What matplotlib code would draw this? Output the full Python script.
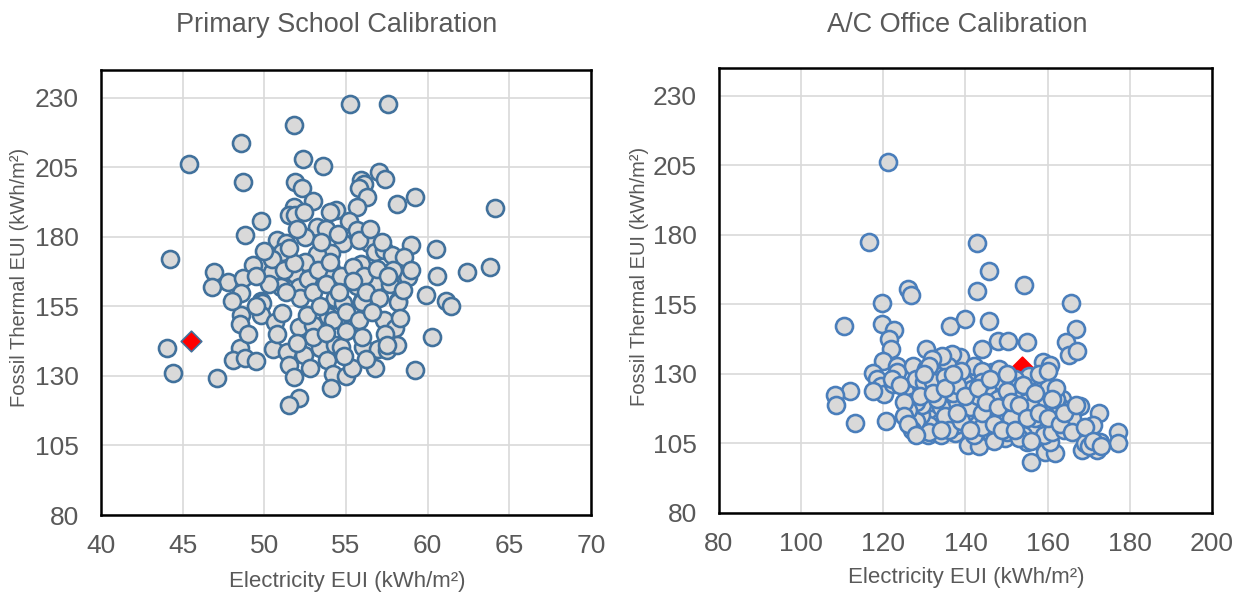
import matplotlib
matplotlib.use("Agg")
import matplotlib.pyplot as plt

plt.rcParams['font.family'] = ['Liberation Sans', 'DejaVu Sans']

# ---------------- data ----------------
school_title = "Primary School Calibration"
office_title = "A/C Office Calibration"
x_label = "Electricity EUI (kWh/m²)"
y_label = "Fossil Thermal EUI (kWh/m²)"

school_xticks = [40, 45, 50, 55, 60, 65, 70]
office_xticks = [80, 100, 120, 140, 160, 180, 200]
yticks = [80, 105, 130, 155, 180, 205, 230]

school_elec = [55.25, 57.6, 51.8, 48.55, 45.4, 52.35, 53.6, 48.7, 55.9, 56.1, 55.8, 57.0, 57.4,
               51.9, 52.3, 56.3, 59.2, 58.1, 64.1, 52.96, 55.65, 54.4, 54.0, 51.8, 51.5, 51.9,
               52.4, 49.8, 55.2, 55.7, 53.2, 53.8, 48.8, 44.2, 50.76, 51.3, 51.1, 54.8, 56.4,
               59.0, 60.5, 56.8, 57.3, 57.8, 58.55, 54.1, 53.25, 49.3, 46.9, 47.8, 46.8, 48.7,
               48.6, 62.4, 63.8, 60.6, 59.9, 58.8, 55.9, 54.1, 52.5, 51.9, 50.45, 53.45, 54.4,
               55.65, 56.8, 57.7, 57.9, 51.0, 52.1, 54.3, 56.0, 58.2, 61.1, 61.4, 49.8,
               49.84, 49.8, 50.65, 48.6, 48.5, 51.1, 52.1, 53.0, 53.9, 54.3, 54.8, 56.0, 58.2,
               57.3, 58.0, 55.35, 44.06, 44.4, 47.1, 48.5, 48.1, 48.8, 49.5, 50.55, 51.4, 51.5,
               51.8, 52.4, 52.1, 51.5, 53.4, 53.86, 54.33, 54.7, 54.2, 55.0, 55.35, 54.1, 56.06,
               56.98, 57.5, 58.1, 56.8, 59.2, 60.25,
               50.5, 51.2, 51.8, 52.7, 53.3, 54.0, 54.7, 55.4, 56.1, 56.9, 57.6, 52.2, 53.0,
               53.8, 54.6, 55.4, 56.2, 57.0, 52.6, 53.4, 54.2, 55.0, 55.8, 56.6, 57.4, 56.0,
               55.0, 53.0, 52.0, 50.8, 51.3, 50.3, 49.5, 51.5, 52.5, 53.5, 54.5, 55.8, 56.5,
               57.2, 52.0, 58.5, 59.0, 58.3, 57.5, 53.8, 54.9, 56.2, 52.8, 49.0, 48.0, 50.0, 49.5]
school_thermal = [227.8, 227.8, 220.2, 213.9, 206.2, 207.9, 205.5, 199.9, 200.5, 199.0, 197.5, 203.4, 200.8,
                  199.9, 197.5, 194.5, 194.5, 191.8, 190.5, 193.0, 190.9, 189.7, 189.1, 190.9, 187.9, 187.9,
                  189.1, 185.8, 185.8, 182.5, 183.4, 182.8, 180.7, 171.9, 178.9, 177.7, 174.7, 177.9, 177.9,
                  177.1, 175.5, 174.7, 175.3, 173.5, 172.6, 174.3, 173.8, 169.9, 167.5, 163.9, 162.1, 165.1,
                  159.7, 167.5, 169.1, 165.9, 159.1, 165.5, 170.3, 168.3, 171.1, 166.6, 167.5, 163.5, 162.1,
                  162.3, 163.5, 163.1, 168.1, 161.9, 161.9, 157.6, 157.1, 157.1, 157.1, 155.2, 157.1,
                  156.1, 151.9, 149.5, 151.9, 148.7, 152.5, 147.5, 148.3, 151.6, 157.9, 156.1, 156.7, 156.7,
                  150.1, 147.1, 147.1, 139.9, 131.2, 129.2, 139.9, 135.7, 136.6, 135.5, 139.6, 138.7, 133.9,
                  129.5, 137.5, 122.2, 119.6, 139.9, 135.7, 141.1, 140.5, 130.7, 130.0, 132.7, 125.6, 140.5,
                  139.6, 139.3, 141.1, 132.7, 132.1, 144.1,
                  172.0, 168.0, 170.5, 165.0, 168.0, 171.0, 166.0, 169.0, 166.0, 168.5, 166.0, 158.0, 160.0,
                  163.0, 160.0, 164.0, 160.0, 158.0, 152.0, 155.0, 150.0, 153.0, 150.0, 153.0, 145.0, 144.0,
                  146.0, 144.0, 142.0, 145.0, 160.0, 163.0, 166.0, 176.0, 180.0, 178.0, 181.0, 179.0, 183.0,
                  178.0, 183.0, 161.0, 168.0, 151.0, 141.0, 145.5, 137.0, 136.0, 133.0, 145.0, 157.0, 175.0, 155.0]
school_target_elec = [45.5]
school_target_thermal = [142.7]

office_elec = [121.1, 116.6, 142.7, 145.7, 154.2, 125.9, 126.7, 142.7, 165.8, 119.7,
               110.4, 119.7, 122.6, 121.4, 121.9, 119.8, 123.3, 127.3, 123.3, 117.4, 118.5, 119.5,
               120.2, 117.6, 122.4, 112.0, 108.2, 108.5, 113.0, 120.7, 130.5, 136.3, 139.9, 145.6,
               143.9, 147.8, 150.4, 155.0, 166.8, 164.4, 165.3, 167.1, 158.8, 160.5,
               161.7, 163.4, 167.9, 172.4, 171.1, 177.2, 177.2, 168.4, 172.0, 172.7, 170.8, 169.2,
               167.4, 165.0, 163.4, 155.9, 159.3, 161.7, 160.5, 158.3, 155.9, 152.6, 155.0, 152.1,
               148.1, 149.7, 145.9, 148.1, 140.6, 143.3, 130.8, 134.1, 137.5, 127.6, 127.6,
               126.7, 127.1, 126.9, 129.1, 131.0, 131.9, 132.9, 131.5, 134.8, 135.3, 136.3, 137.5,
               138.6, 139.1, 140.4, 142.0, 143.0, 144.2, 145.8, 146.5, 147.8, 147.3, 148.7, 149.4,
               150.6, 152.1, 153.0, 153.8, 155.0, 156.4, 156.9, 157.8, 158.8, 159.7, 161.2, 162.6,
               160.2, 157.3, 155.4, 140.6, 138.6, 136.7, 135.8, 134.3, 131.9, 130.5, 133.4, 142.0,
               143.9, 139.6, 141.5, 145.4, 148.2, 152.1, 154.0, 155.9, 151.1, 147.3, 137.7, 133.9,
               131.0, 129.1, 129.5, 137.7, 142.5,
               128, 130, 133, 136, 139, 141, 144, 146, 150, 151, 153, 156, 158, 160, 163, 165,
               128, 131, 134, 137, 140, 142, 145, 148, 150, 154, 157, 159, 162, 166, 128, 132,
               135, 138, 141, 143, 146, 149, 152, 155, 126, 127, 129, 133, 136, 139, 144, 147,
               151, 153, 156, 159, 161, 164, 122, 124, 131, 135, 150, 158, 160, 162,
               125, 125, 126, 128, 130, 132, 134, 135, 137, 138, 140, 141, 143, 144, 145, 146,
               147, 148, 149, 150, 151, 152, 153, 154, 155, 156, 157, 158, 160, 161, 163, 164,
               166, 169, 170, 171, 173, 167]
office_thermal = [206.3, 177.3, 176.9, 167.1, 162.1, 160.7, 158.3, 159.7, 155.6, 155.6,
                  147.3, 147.9, 145.7, 142.5, 138.9, 134.8, 133.0, 132.7, 130.6, 130.2, 128.2, 125.8,
                  122.9, 124.0, 126.4, 124.0, 122.5, 118.9, 112.5, 113.0, 138.9, 147.3, 149.6, 149.0,
                  138.9, 141.9, 141.7, 141.3, 146.3, 141.3, 136.8, 138.3, 134.2, 133.2,
                  124.9, 121.1, 118.5, 116.1, 111.8, 109.2, 105.0, 102.6, 102.6, 105.4, 105.6, 105.0,
                  111.0, 115.1, 113.0, 98.2, 102.0, 101.4, 105.6, 109.2, 108.0, 108.0, 105.6, 109.8,
                  108.9, 107.0, 109.8, 112.7, 104.6, 104.1, 108.2, 108.0, 108.6, 111.0, 115.1,
                  125.8, 122.9, 119.9, 125.8, 121.7, 118.7, 116.3, 113.9, 124.6, 121.1, 116.9, 114.5,
                  122.3, 118.7, 112.7, 111.6, 116.3, 119.9, 122.3, 130.6, 128.2, 124.6, 116.9, 113.3,
                  121.1, 123.5, 125.8, 118.7, 116.3, 124.6, 121.1, 117.5, 113.9, 111.6, 116.3, 113.3,
                  118.1, 128.2, 129.4, 130.6, 136.0, 137.1, 133.0, 136.5, 135.4, 131.8, 129.4, 133.0,
                  131.2, 127.0, 124.6, 125.8, 131.8, 128.2, 122.3, 112.7, 111.6, 115.1, 111.6, 112.7,
                  111.6, 115.1, 118.7, 118.1, 115.1,
                  128, 127, 124, 127, 131, 121, 127, 118, 118, 126, 112, 110, 122, 125, 118, 117,
                  113, 109, 118, 123, 116, 108, 113, 121, 109, 108, 114, 120, 121, 114, 120, 127,
                  115, 126, 118, 122, 109, 127, 116, 120, 117, 110, 122, 121, 110, 113, 111, 106,
                  114, 107, 118, 108, 109, 110, 128, 126, 133, 129, 130, 130, 131, 125,
                  120, 115, 112, 108, 130, 123, 110, 125, 130, 116, 122, 110, 125, 116, 120, 128,
                  112, 118, 110, 124, 120, 110, 119, 126, 114, 106, 123, 116, 114, 121, 112, 116,
                  109, 111, 104, 106, 104, 119]
office_target_elec = [153.8]
office_target_thermal = [132.5]

# ---------------- style ----------------
TXT = '#595959'
GRID = '#d9d9d9'
FILL = '#d9d9d9'

fig = plt.figure(figsize=(12.45, 5.96), dpi=100)
axL = fig.add_axes([0.0811, 0.1359, 0.3936, 0.7467])
axR = fig.add_axes([0.5775, 0.1393, 0.3960, 0.7466])


def style(ax, xlim, xticks):
    ax.set_xlim(*xlim)
    ax.set_ylim(80, 240)
    ax.set_xticks(xticks)
    ax.set_yticks(yticks)
    ax.grid(True, color=GRID, linewidth=1.2, zorder=0)
    ax.set_axisbelow(True)
    for s in ax.spines.values():
        s.set_color('black')
        s.set_linewidth(1.8)
        s.set_zorder(5)
    ax.tick_params(axis='both', length=0, labelsize=19, labelcolor=TXT)
    ax.tick_params(axis='x', pad=14)
    ax.tick_params(axis='y', pad=16)


style(axL, (40, 70), school_xticks)
style(axR, (80, 200), office_xticks)

axL.scatter(school_elec, school_thermal, s=150, facecolor=FILL, edgecolor='#41719c',
            linewidth=1.9, zorder=3)
axL.scatter(school_target_elec, school_target_thermal, s=110, marker='D', facecolor='#ff0000',
            edgecolor='#41719c', linewidth=1.2, zorder=4)

axR.scatter(office_target_elec, office_target_thermal, s=110, marker='D', facecolor='#ff0000',
            edgecolor='#ff0000', linewidth=1.2, zorder=2.5)
axR.scatter(office_elec, office_thermal, s=150, facecolor=FILL, edgecolor='#4a7ebb',
            linewidth=1.9, zorder=3)

fig.text(337 / 1245, 1 - 25 / 596, school_title, ha='center', va='center', fontsize=19.5, color=TXT)
fig.text(957 / 1245, 1 - 25 / 596, office_title, ha='center', va='center', fontsize=19.5, color=TXT)
fig.text(347 / 1245, 1 - 582 / 596, x_label, ha='center', va='center', fontsize=16, color=TXT)
fig.text(966 / 1245, 1 - 578 / 596, x_label, ha='center', va='center', fontsize=16, color=TXT)
fig.text(20 / 1245, 1 - 277 / 596, y_label, ha='center', va='center', rotation=90, fontsize=14.5, color=TXT)
fig.text(640 / 1245, 1 - 276 / 596, y_label, ha='center', va='center', rotation=90, fontsize=14.5, color=TXT)

fig.savefig('out.png', dpi=100)
